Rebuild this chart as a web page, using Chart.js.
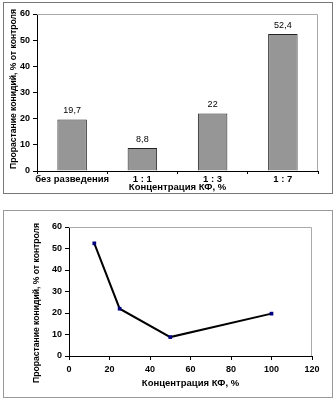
<!DOCTYPE html>
<html>
<head>
<meta charset="utf-8">
<script src="https://cdn.jsdelivr.net/npm/chart.js@4"></script>
<style>
  body { margin: 0; background: #fff; width: 335px; height: 402px; position: relative; overflow: hidden; }
  .box { position: absolute; border: 1px solid #777; background: #fff; }
  #boxBar { left: 3px; top: 2px; width: 328px; height: 190px; }
  #boxLine { left: 3px; top: 210px; width: 328px; height: 186px; border-color: #999; }
  canvas { display: block; }
</style>
</head>
<body>
<div class="box" id="boxBar"><canvas id="chartBar" width="328" height="190"></canvas></div>
<div class="box" id="boxLine"><canvas id="chartLine" width="328" height="186"></canvas></div>
<script>
// data
var barLabels = ['без разведения', '1 : 1', '1 : 3', '1 : 7'];
var barValues = [19.7, 8.8, 22, 52.4];
var linePointsX = [12.5, 25, 50, 100];
var linePointsY = [52.4, 22, 8.8, 19.7];

var yTitle = 'Прорастание конидий, % от контроля';
var xTitle = 'Концентрация КФ, %';

var fontFam = 'Arial, "Liberation Sans", sans-serif';

// grey frame on top/right of the plot area, like excel
var plotFrame = {
	id: 'plotFrame',
	beforeDatasetsDraw: function (chart) {
		var a = chart.chartArea, ctx = chart.ctx;
		ctx.save();
		ctx.strokeStyle = '#aaa';
		ctx.lineWidth = 1;
		ctx.beginPath();
		ctx.moveTo(a.left, a.top + 0.5);
		ctx.lineTo(a.right - 0.5, a.top + 0.5);
		ctx.lineTo(a.right - 0.5, a.bottom);
		ctx.stroke();
		ctx.restore();
	}
};

// value labels above the bars
var barValueLabels = {
	id: 'barValueLabels',
	afterDatasetsDraw: function (chart) {
		var ctx = chart.ctx;
		var meta = chart.getDatasetMeta(0);
		ctx.save();
		ctx.font = '9px ' + fontFam;
		ctx.fillStyle = '#000';
		ctx.textAlign = 'center';
		ctx.textBaseline = 'bottom';
		meta.data.forEach(function (bar, i) {
			ctx.fillText(String(barValues[i]).replace('.', ','), bar.x, bar.y - 4);
		});
		ctx.restore();
	}
};

// rotated y title, placed where excel put it (not always centred on the axis)
function yTitlePlugin(cx, cy) {
	return {
		id: 'yTitleText',
		afterDraw: function (chart) {
			var ctx = chart.ctx;
			ctx.save();
			ctx.translate(cx, cy);
			ctx.rotate(-Math.PI / 2);
			ctx.font = 'bold 8.6px ' + fontFam;
			ctx.fillStyle = '#000';
			ctx.textAlign = 'center';
			ctx.textBaseline = 'middle';
			ctx.fillText(yTitle, 0, 0);
			ctx.restore();
		}
	};
}

function axisY(width) {
	return {
		min: 0, max: 60,
		ticks: { stepSize: 10, color: '#000', padding: 3, font: { family: fontFam, size: 9, weight: 'bold' } },
		grid: { drawOnChartArea: false, color: '#000', tickLength: 4 },
		border: { color: '#000' },
		afterFit: function (scale) { scale.width = width; }
	};
}

new Chart('chartBar', {
	type: 'bar',
	data: {
		labels: barLabels,
		datasets: [{
			data: barValues,
			backgroundColor: '#969696',
			borderColor: '#222',
			borderWidth: 1,
			barPercentage: 0.42,
			categoryPercentage: 1
		}]
	},
	options: {
		responsive: false,
		animation: false,
		layout: { padding: { top: 11, right: 14, left: 0, bottom: 0 } },
		plugins: { legend: { display: false }, tooltip: { enabled: false } },
		scales: {
			x: {
				ticks: { color: '#000', padding: 0, maxRotation: 0, autoSkip: false, font: { family: fontFam, size: 9.5, weight: 'bold' } },
				grid: { drawOnChartArea: false, color: '#000', tickLength: 3 },
				border: { color: '#000' },
				title: { display: true, text: xTitle, color: '#000', padding: 0, font: { family: fontFam, size: 9.5, weight: 'bold' } },
				afterFit: function (scale) { scale.height = 22; }
			},
			y: axisY(33)
		}
	},
	plugins: [plotFrame, barValueLabels, yTitlePlugin(10, 86)]
});

var linePts = linePointsX.map(function (x, i) { return { x: x, y: linePointsY[i] }; });

new Chart('chartLine', {
	type: 'line',
	data: {
		datasets: [{
			data: linePts,
			borderColor: '#000',
			borderWidth: 2,
			pointStyle: 'rect',
			pointRadius: 1.2,
			pointBackgroundColor: '#000080',
			pointBorderColor: '#000080',
			tension: 0
		}]
	},
	options: {
		responsive: false,
		animation: false,
		layout: { padding: { top: 16, right: 20, left: 0, bottom: 0 } },
		plugins: { legend: { display: false }, tooltip: { enabled: false } },
		scales: {
			x: {
				type: 'linear',
				min: 0, max: 120,
				ticks: { stepSize: 20, color: '#000', padding: 4, font: { family: fontFam, size: 9, weight: 'bold' } },
				grid: { drawOnChartArea: false, color: '#000', tickLength: 4 },
				border: { color: '#000' },
				title: { display: true, text: xTitle, color: '#000', padding: { top: 0, bottom: 8 }, font: { family: fontFam, size: 9.5, weight: 'bold' } },
				afterFit: function (scale) { scale.height = 41; }
			},
			y: axisY(65)
		}
	},
	plugins: [plotFrame, yTitlePlugin(33, 92)]
});
</script>
</body>
</html>
